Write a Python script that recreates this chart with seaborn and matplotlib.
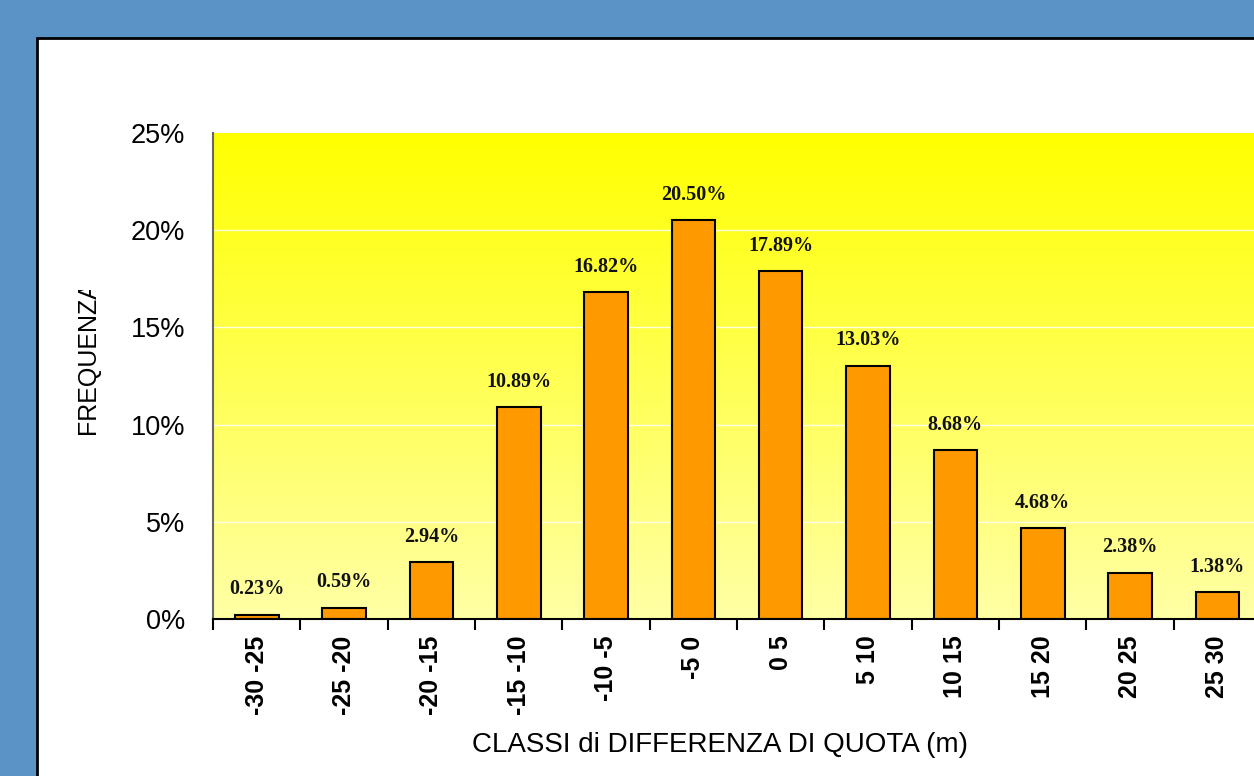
import numpy as np
import pandas as pd
import matplotlib
matplotlib.use("Agg")
import matplotlib.pyplot as plt
import seaborn as sns
from matplotlib.patches import Rectangle
from matplotlib.colors import LinearSegmentedColormap
from matplotlib.transforms import Bbox

categories = ["-30 -25", "-25 -20", "-20 -15", "-15 -10", "-10 -5", "-5 0",
              "0 5", "5 10", "10 15", "15 20", "20 25", "25 30"]
frequencies = [0.23, 0.59, 2.94, 10.89, 16.82, 20.50, 17.89, 13.03, 8.68, 4.68, 2.38, 1.38]
y_ticks = [0, 5, 10, 15, 20, 25]
y_ticklabels = ["0%", "5%", "10%", "15%", "20%", "25%"]

sns.set_theme(style="white")
plt.rcParams['font.family'] = ['Liberation Sans', 'DejaVu Sans']
plt.rcParams['text.color'] = 'black'
plt.rcParams['xtick.color'] = 'black'
plt.rcParams['ytick.color'] = 'black'
plt.rcParams['axes.labelcolor'] = 'black'

W, H = 1254, 776
fig = plt.figure(figsize=(W / 100, H / 100), dpi=100)
fig.patch.set_facecolor("#5b93c6")

# white panel
panel = Rectangle((37 / W, -0.1), 1.2, (H - 38) / H + 0.1, transform=fig.transFigure,
                  facecolor="white", edgecolor="black", linewidth=2, zorder=-5)
fig.patches.append(panel)

ax = fig.add_axes([213 / W, (H - 619) / H, (1261 - 213) / W, (619 - 133) / H])
ax.set_zorder(1)
ax.set_facecolor("none")

df = pd.DataFrame({"classe": categories, "freq": frequencies})

# gradient background
cmap = LinearSegmentedColormap.from_list("yel", ["#ffffa6", "#ffff00"])
grad = np.linspace(0, 1, 256).reshape(-1, 1)
ax.imshow(grad, aspect="auto", cmap=cmap, origin="lower",
          extent=[-0.5, len(categories) - 0.5, 0, 25], zorder=0)

for yv in y_ticks[1:-1]:
    ax.axhline(yv, color="white", linewidth=1.0, alpha=0.8, zorder=1)

sns.barplot(data=df, x="classe", y="freq", ax=ax, color="#ff9900",
            saturation=1, width=0.5, edgecolor="black", linewidth=1.5, zorder=2)

ax.set_xlim(-0.5, len(categories) - 0.5)
ax.set_ylim(0, 25)

for i, v in enumerate(frequencies):
    ax.annotate(f"{v:.2f}%", (i, v), xytext=(0, 11), textcoords="offset points",
                ha="center", va="bottom", fontsize=14.5, fontweight="bold",
                family=["Liberation Serif", "DejaVu Serif"], color="#111111", zorder=3)

ax.set_yticks(y_ticks)
ax.set_yticklabels(y_ticklabels, fontsize=19.5)
ax.set_xticks(range(len(categories)))
ax.set_xticklabels(categories, rotation=90, fontsize=18, fontweight="bold")
ax.set_xticks(np.arange(-0.5, len(categories), 1), minor=True)
ax.tick_params(axis="x", which="major", length=0, pad=12)
ax.tick_params(axis="x", which="minor", length=8, width=1.5, color="black", direction="out", bottom=True)
ax.tick_params(axis="y", length=0, pad=20)

ax.set_xlabel("")
ax.set_ylabel("")
for s in ["top", "right"]:
    ax.spines[s].set_visible(False)
ax.spines["left"].set_color("#666666")
ax.spines["left"].set_linewidth(1.5)
ax.spines["bottom"].set_color("black")
ax.spines["bottom"].set_linewidth(1.5)

fig.text(720 / W, 1 - 745 / H, "CLASSI di DIFFERENZA DI QUOTA (m)", ha="center",
         va="center", fontsize=20)
ylab = fig.text(88 / W, 1 - 357 / H, "FREQUENZA", ha="center", va="center",
                rotation=90, fontsize=18)
ylab.set_clip_box(Bbox.from_extents(0, 0, W, H - 290))
ylab.set_clip_on(True)

fig.savefig("out.png", dpi=100, facecolor=fig.get_facecolor())
